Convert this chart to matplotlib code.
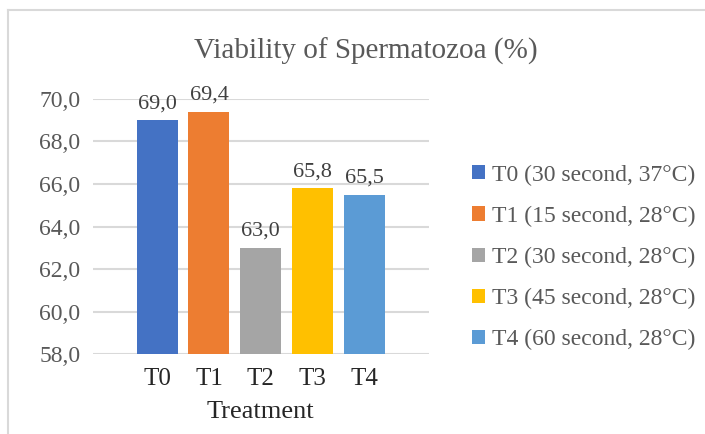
import matplotlib
matplotlib.use('Agg')
import matplotlib.pyplot as plt
from matplotlib.lines import Line2D

# Chart data
treatments = ['T0', 'T1', 'T2', 'T3', 'T4']
legend_labels = ['T0 (30 second, 37°C)', 'T1 (15 second, 28°C)', 'T2 (30 second, 28°C)',
                 'T3 (45 second, 28°C)', 'T4 (60 second, 28°C)']
viability = [69.0, 69.4, 63.0, 65.8, 65.5]
y_ticks = [58, 60, 62, 64, 66, 68, 70]

colors = ['#4472C4', '#ED7D31', '#A5A5A5', '#FFC000', '#5B9BD5']

plt.rcParams['font.family'] = ['Liberation Serif', 'DejaVu Serif']

fig = plt.figure(figsize=(7.05, 4.34), dpi=100)
ax = fig.add_axes([0.1315, 0.1843, 0.477, 0.5876])

# One bar per treatment, each its own series for the legend
x = list(range(len(treatments)))
for i in x:
    ax.bar(i, viability[i], width=0.79, color=colors[i], label=legend_labels[i], zorder=3)
    ax.annotate(f'{viability[i]:.1f}'.replace('.', ','), (i, viability[i]),
                xytext=(0, 5), textcoords='offset points', ha='center', va='bottom',
                fontsize=16, color='#404040')

ax.set_ylim(58, 70)
ax.set_xlim(-1.24, 5.24)
ax.set_yticks(y_ticks)
ax.set_yticklabels([f'{v:.1f}'.replace('.', ',') for v in y_ticks], fontsize=17, color='#595959')
ax.set_xticks(x)
ax.set_xticklabels(treatments, fontsize=18, color='#262626')
ax.tick_params(axis='both', length=0)
ax.tick_params(axis='y', pad=9)
ax.tick_params(axis='x', pad=10)
ax.grid(axis='y', color='#D9D9D9', linewidth=1.5, zorder=0)
for s in ax.spines.values():
    s.set_visible(False)
ax.set_xlabel('Treatment', fontsize=19, color='#262626', labelpad=8)

fig.text(0.519, 0.882, 'Viability of Spermatozoa (%)', ha='center', va='center',
         fontsize=21, color='#595959')

fig.legend(loc='center left', bbox_to_anchor=(0.6695, 0.4067), frameon=False,
           fontsize=17, labelcolor='#595959', handlelength=0.55, handleheight=0.55,
           handletextpad=0.3, labelspacing=0.85, borderpad=0, borderaxespad=0)

# Light chart-area border (left and top edges visible)
fig.add_artist(Line2D([8 / 705, 8 / 705], [0, 1 - 10 / 434], transform=fig.transFigure,
                      color='#D9D9D9', linewidth=1.5))
fig.add_artist(Line2D([8 / 705, 1], [1 - 10 / 434, 1 - 10 / 434], transform=fig.transFigure,
                      color='#D9D9D9', linewidth=1.5))

fig.savefig('out.png', dpi=100)
